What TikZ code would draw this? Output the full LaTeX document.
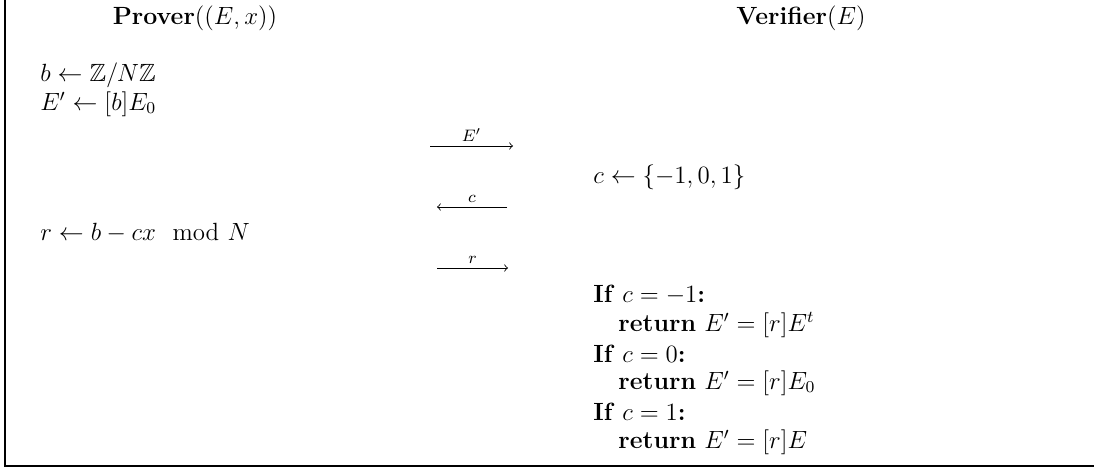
\documentclass[tikz,border=0pt]{standalone}
\usepackage{amsmath,amssymb}
\begin{document}
\begin{tikzpicture}[x=0.01693cm, y=-0.01693cm,
  font=\fontsize{12}{14.5}\selectfont,
  step text/.style={anchor=west, inner sep=0pt},
  head text/.style={inner sep=0pt},
  msg/.style={->, thin},
  msg label/.style={above, inner sep=2pt, font=\fontsize{8}{9.5}\selectfont}]

\useasboundingbox (0,0) rectangle (1094,469);

% =====================================================================
% Frame (left and bottom edges)
% =====================================================================
\draw[line width=0.8pt] (5,0) -- (5,466) -- (1094,466);

% =====================================================================
% Parties
% =====================================================================
\node[head text] (prover) at (195,18) {\textbf{Prover}$((E,x))$};
\node[head text] (verifier) at (801,18) {\textbf{Verifier}$(E)$};

% =====================================================================
% Prover side
% =====================================================================
\node[step text] (pb) at (40,75) {$b \leftarrow \mathbb{Z}/N\mathbb{Z}$};
\node[step text] (pe) at (40,104) {$E' \leftarrow [b]E_0$};
\node[step text] (pr) at (40,233) {$r \leftarrow b - cx \mod N$};

% =====================================================================
% Messages
% =====================================================================
\coordinate (m1a) at (430,146);
\coordinate (m1b) at (513,146);
\draw[msg] (m1a) -- node[msg label] {$E'$} (m1b);

\coordinate (m2a) at (507,207);
\coordinate (m2b) at (437,207);
\draw[msg] (m2a) -- node[msg label] {$c$} (m2b);

\coordinate (m3a) at (437,268);
\coordinate (m3b) at (508,268);
\draw[msg] (m3a) -- node[msg label] {$r$} (m3b);

% =====================================================================
% Verifier side
% =====================================================================
\node[step text] (vc) at (593,177) {$c \leftarrow \{-1,0,1\}$};

\node[step text] (if1) at (593,295) {\textbf{If} $c = -1$\textbf{:}};
\node[step text] (ret1) at (618,325) {\textbf{return} $E' = [r]E^t$};
\node[step text] (if2) at (593,354) {\textbf{If} $c = 0$\textbf{:}};
\node[step text] (ret2) at (618,383) {\textbf{return} $E' = [r]E_0$};
\node[step text] (if3) at (593,412) {\textbf{If} $c = 1$\textbf{:}};
\node[step text] (ret3) at (618,442) {\textbf{return} $E' = [r]E$};

\end{tikzpicture}
\end{document}
